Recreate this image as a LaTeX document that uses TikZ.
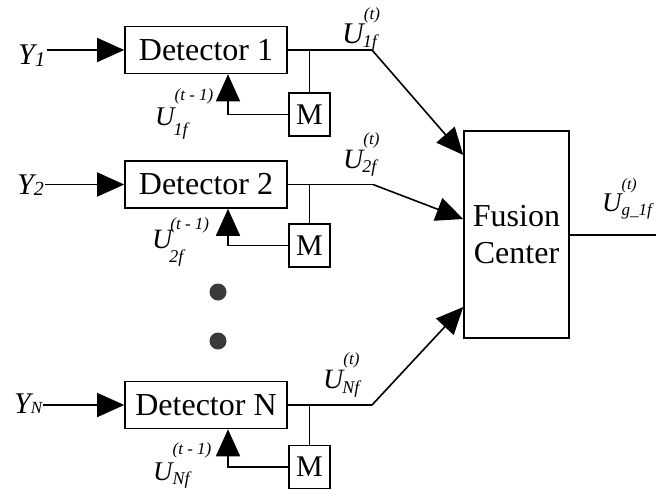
\documentclass[tikz,border=0pt]{standalone}
\usepackage{fontspec}
\setmainfont{Liberation Serif}
\usetikzlibrary{arrows.meta}
% #1 U size, #2 sup size, #3 sup shift, #4 sup raise, #5 sup text, #6 sub size, #7 sub shift, #8 sub lower, #9 sub text
\newcommand\ulab[9]{{\itshape\fontsize{#1}{#1}\selectfont U\makebox[0pt][l]{\hspace{#3}\raisebox{#4}{\fontsize{#2}{#2}\selectfont #5}}\hspace{#7}\raisebox{-#8}{\fontsize{#6}{#6}\selectfont #9}}}
\newcommand\ylab[3]{{\itshape\fontsize{30}{30}\selectfont Y\raisebox{-#2}{\fontsize{#1}{#1}\selectfont #3}}}
\definecolor{dotc}{HTML}{3A3A3A}
\begin{document}
\begin{tikzpicture}[x=1pt,y=-1pt,
  det/.style={draw, line width=1.6pt, minimum width=162pt, minimum height=47pt, inner sep=0pt, font=\fontsize{32}{32}\selectfont},
  mbox/.style={draw, line width=1.6pt, minimum width=41pt, minimum height=43pt, inner sep=0pt, font=\fontsize{30}{30}\selectfont},
  fusion/.style={draw, line width=1.6pt, minimum width=105pt, minimum height=207pt, inner sep=0pt, align=center, font=\fontsize{32}{37}\selectfont},
  wire/.style={line width=1.6pt},
  arr/.style={wire, -{Triangle[length=27pt,width=24pt]}},
  lbl/.style={anchor=base west, inner sep=0pt},
  dot/.style={circle, fill=dotc, minimum size=17pt, inner sep=0pt}]
\useasboundingbox (0,0) rectangle (672,496);

% detectors
\node[det] (d1) at (206,50) {Detector 1};
\node[det] (d2) at (206,184.5) {Detector 2};
\node[det] (dN) at (206,405) {Detector N};

% memory boxes
\node[mbox] (m1) at (309.5,114.5) {M};
\node[mbox] (m2) at (309.5,245.5) {M};
\node[mbox] (mN) at (309.5,467) {M};

% fusion center
\node[fusion] (fc) at (516.5,234.5) {Fusion\\Center};

% dots
\node[dot] (dot1) at (218,292) {};
\node[dot] (dot2) at (218,341) {};

% inputs
\node[lbl, inner xsep=1pt] (y1) at (17,64) {\ylab{21}{2pt}{1}};
\node[lbl, inner xsep=1pt] (y2) at (16,194) {\ylab{20}{1pt}{2}};
\node[lbl, inner xsep=1pt] (yN) at (13,413) {\ylab{17}{0pt}{N}};
\draw[arr] (d1.west -| y1.east) -- (d1.west);
\draw[arr] (d2.west -| y2.east) -- (d2.west);
\draw[arr] (dN.west -| yN.east) -- (dN.west);

% outputs to fusion center
\coordinate (k1) at (372,50);
\coordinate (k2) at (373,184.5);
\coordinate (kN) at (372,405);
\coordinate (h1) at (0,155);
\coordinate (h2) at (0,219);
\coordinate (hN) at (0,307);
\draw[wire] (d1.east) -- (k1);
\draw[wire] (d2.east) -- (k2);
\draw[wire] (dN.east) -- (kN);
\draw[arr] (k1) -- (fc.west |- h1);
\draw[arr] (k2) -- (fc.west |- h2);
\draw[arr] (kN) -- (fc.west |- hN);

% taps to memory
\draw[wire] (m1.north) -- (m1.north |- d1.east);
\draw[wire] (m2.north) -- (m2.north |- d2.east);
\draw[wire] (mN.north) -- (mN.north |- dN.east);

% feedback
\coordinate (fx) at (228,0);
\draw[arr] (m1.west) -| (d1.south -| fx);
\draw[arr] (m2.west) -| (d2.south -| fx);
\draw[arr] (mN.west) -| (dN.south -| fx);

% fusion output
\coordinate (out) at (656,235);
\draw[wire] (fc.east |- out) -- (out);

% labels
\node[lbl] (u1) at (342,43) {\ulab{30}{17}{0pt}{24pt}{(t)}{18}{-1pt}{4pt}{1f}};
\node[lbl] (u2) at (343,168) {\ulab{28}{17}{0pt}{24pt}{(t)}{18}{-1pt}{4.5pt}{2f}};
\node[lbl] (uN) at (323,388) {\ulab{28}{17}{0pt}{24pt}{(t)}{18}{-1pt}{5pt}{Nf}};
\node[lbl] (p1) at (155,125) {\ulab{27}{17}{0pt}{25pt}{(t - 1)}{18}{-1pt}{10pt}{1f}};
\node[lbl] (p2) at (152,248) {\ulab{28}{17}{-2pt}{19pt}{(t - 1)}{18}{-3pt}{14pt}{2f}};
\node[lbl] (pN) at (153,480) {\ulab{27}{17}{0pt}{26pt}{(t - 1)}{18}{0pt}{4pt}{Nf}};
\node[lbl] (ug) at (602,211) {\ulab{27}{16}{0pt}{22pt}{(t)}{17}{0pt}{4pt}{g\_1f}};
\end{tikzpicture}
\end{document}
